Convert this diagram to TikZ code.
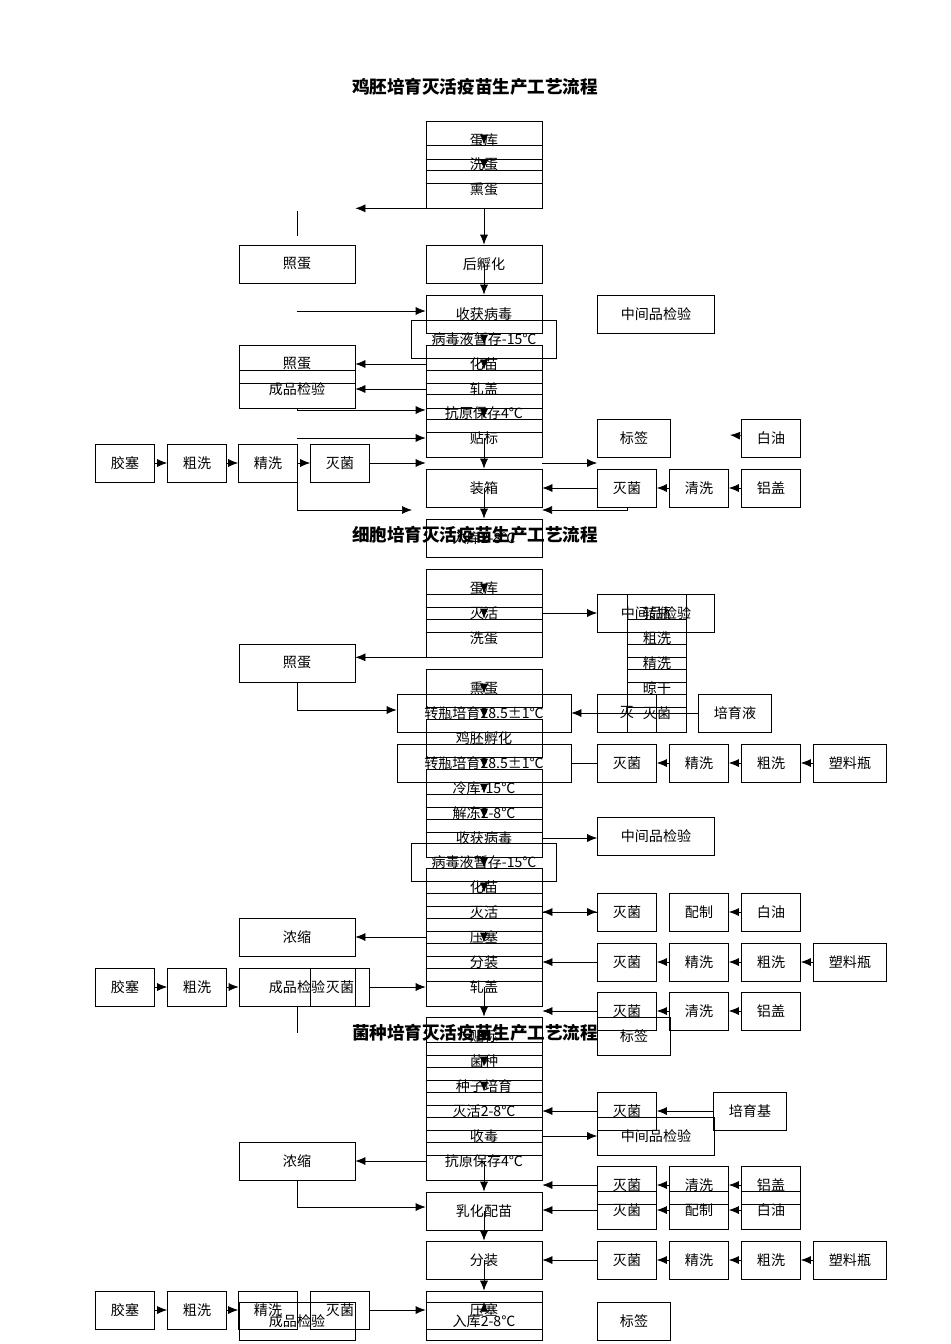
\documentclass[tikz,border=0pt]{standalone}
\usepackage{fontspec}
\setmainfont{Noto Sans CJK SC}
\usetikzlibrary{arrows.meta}
\tikzset{
  box/.style={draw,thin,minimum width=#1*0.02cm,minimum height=0.76cm,inner sep=0pt,font=\fontsize{8}{9}\selectfont},
  box/.default=116,
  arr/.style={-{Latex[length=2mm,width=1.6mm]},thin},
  ttl/.style={font=\fontsize{10}{12}\selectfont\bfseries}
}
\newcommand{\bx}[5][116]{\node[box=#1] (#2) at (#3,#4+3) {#5};}
\begin{document}
\begin{tikzpicture}[x=0.02cm,y=-0.02cm]
\useasboundingbox (0,0) rectangle (950,1344);
% section 1
\node[ttl] (t1) at (475,87) {鸡胚培育灭活疫苗生产工艺流程};
\bx{a1}{484}{137}{蛋库}
\bx{a2}{484}{161}{洗蛋}
\bx{a3}{484}{186}{熏蛋}
\bx{a4}{484}{261}{后孵化}
\bx{a5}{484}{311}{收获病毒}
\bx[145]{a6}{484}{336}{病毒液暂存-15℃}
\bx{a7}{484}{386}{轧盖}
\bx{a8}{484}{410}{抗原保存4℃}
\bx{a9}{484}{361}{化苗}
\bx{a10}{484}{435}{贴标}
\bx{a11}{484}{485}{装箱}
\bx{a12}{484}{535}{入库2-8℃}
\bx{b1}{297}{261}{照蛋}
\bx{b2}{297}{361}{照蛋}
\bx{b3}{297}{386}{成品检验}
\bx[59]{b4}{125}{460}{胶塞}
\bx[59]{b5}{197}{460}{粗洗}
\bx[59]{b6}{268}{460}{精洗}
\bx[59]{b7}{340}{460}{灭菌}
\bx[117]{c1}{656}{311}{中间品检验}
\bx[73]{c2}{634}{435}{标签}
\bx[59]{c3}{771}{435}{白油}
\bx[59]{c4}{627}{485}{灭菌}
\bx[59]{c5}{699}{485}{清洗}
\bx[59]{c6}{771}{485}{铝盖}
\coordinate (p1) at (297,211); \coordinate (p2) at (297,236);
\coordinate (p3) at (297,311); \coordinate (p4) at (297,410);
\coordinate (p5) at (297,510); \coordinate (p6) at (412,510);
\coordinate (p7) at (730,435); \coordinate (p8) at (542,510);
\draw (p1) -- (p2);
\draw[arr] (a3.south west) -- (a3.south west -| b1.east);
\draw[arr] (a3.south) -- (a4.north);
\draw[arr] (p3) -- (p3 -| a5.west);
\draw[arr] (a9.west) -- (b2.east);
\draw[arr] (a7.west) -- (b3.east);
\draw (b3.south) -- (p4);
\draw[arr] (p4) -- (p4 -| a8.west);
\draw[arr] (p4 |- a10) -- (a10.west);
\draw[arr] (b7.east) -- (a10.west |- b7);
\draw[arr] (b4) -- (b5); \draw[arr] (b5) -- (b6); \draw[arr] (b6) -- (b7);
\draw[arr] (a10.east |- b7) -- (c2.west |- b7);
\draw[arr] (c4) -- (a11.east |- c4);
\draw[arr] (c5) -- (c4); \draw[arr] (c6) -- (c5);
\draw[arr] (c3) -- (p7);
\draw[arr] (c4.south) |- (p8);
\draw (p5 |- b6.south) -- (p5); \draw[arr] (p5) -- (p6);
\foreach \u/\v in {a1/a2,a2/a3,a4/a5,a6/a9,a9/a7,a8/a10,a10/a11,a11/a12}
  \draw[arr] (\u.center) -- (\v.north);
% section 2
\node[ttl] (t2) at (475,535) {细胞培育灭活疫苗生产工艺流程};
\bx{d1}{484}{585}{蛋库}
\bx{d2}{484}{610}{灭活}
\bx{d3}{484}{635}{洗蛋}
\bx{d4}{484}{685}{熏蛋}
\bx{d5}{484}{735}{鸡胚孵化}
\bx[174]{d6}{484}{710}{转瓶培育28.5±1℃}
\bx[174]{d7}{484}{760}{转瓶培育28.5±1℃}
\bx{d8}{484}{785}{冷库-15℃}
\bx{d9}{484}{835}{收获病毒}
\bx{d10}{484}{810}{解冻2-8℃}
\bx[145]{d11}{484}{859}{病毒液暂存-15℃}
\bx{d12}{484}{909}{灭活}
\bx{d13}{484}{884}{化苗}
\bx{d14}{484}{959}{分装}
\bx{d15}{484}{934}{压塞}
\bx{d16}{484}{984}{轧盖}
\bx{e1}{297}{660}{照蛋}
\bx{e2}{297}{934}{浓缩}
\bx[59]{e3}{125}{984}{胶塞}
\bx[59]{e4}{197}{984}{粗洗}
\bx[59]{e5}{340}{984}{灭菌}
\bx{e6}{297}{984}{成品检验}
\bx[117]{f1}{656}{610}{中间品检验}
\bx[59]{f3}{657}{635}{粗洗}
\bx[59]{f4}{657}{660}{精洗}
\bx[59]{f5}{657}{685}{晾干}
\bx[59]{f6}{627}{710}{灭}
\bx[59]{f2}{657}{610}{转瓶}
\bx[59]{f7}{657}{710}{灭菌}
\bx[73]{f8}{735}{710}{培育液}
\bx[59]{f9}{627}{760}{灭菌}
\bx[59]{f10}{699}{760}{精洗}
\bx[59]{f11}{771}{760}{粗洗}
\bx[73]{f12}{850}{760}{塑料瓶}
\bx[117]{f13}{656}{833}{中间品检验}
\bx[59]{f14}{627}{909}{灭菌}
\bx[59]{f15}{699}{909}{配制}
\bx[59]{f16}{771}{909}{白油}
\bx[59]{f17}{627}{959}{灭菌}
\bx[59]{f18}{699}{959}{精洗}
\bx[59]{f19}{771}{959}{粗洗}
\bx[73]{f20}{850}{959}{塑料瓶}
\bx[73]{f24}{634}{1033}{标签}
\bx[59]{f21}{627}{1008}{灭菌}
\bx[59]{f22}{699}{1008}{清洗}
\bx[59]{f23}{771}{1008}{铝盖}
\coordinate (q1) at (297,710); \coordinate (q2) at (297,1033);
\draw[arr] (d3.south west) -- (d3.south west -| e1.east);
\draw (e1.south) -- (q1); \draw[arr] (q1) -- (d6.west |- q1);
\draw[arr] (d2.east) -- (f1.west |- d2);
\draw[arr] (f8) -- (d6.east);
\draw[arr] (f10) -- (f9); \draw[arr] (f11) -- (f10); \draw[arr] (f12) -- (f11);
\draw (f9.west) -- (d7.east);
\draw[arr] (d9.east) -- (f13.west |- d9);
\draw[arr] (d12.east) -- (f14.west);
\draw[arr] (f14.west) -- (d12.east);
\draw[arr] (f16) -- (f15);
\draw[arr] (d15.west) -- (e2.east);
\draw[arr] (f17) -- (d14.east |- f17);
\draw[arr] (f18) -- (f17); \draw[arr] (f19) -- (f18); \draw[arr] (f20) -- (f19);
\draw[arr] (f21) -- (d16.east |- f21);
\draw[arr] (f22) -- (f21); \draw[arr] (f23) -- (f22);
\draw[arr] (e3) -- (e4); \draw[arr] (e4) -- (e6);
\draw[arr] (e5.east) -- (d16.west);
\draw (e6.south) -- (q2);
\foreach \u/\v in {d1/d2,d2/d3,d4/d6,d6/d5,d7/d8,d8/d10,d10/d9,d11/d13,d13/d12,d15/d14}
  \draw[arr] (\u.center) -- (\v.north);
% section 3
\node[ttl] (t3) at (475,1033) {菌种培育灭活疫苗生产工艺流程};
\bx{g1}{484}{1033}{贴标}
\bx{g2}{484}{1058}{菌种}
\bx{g3}{484}{1108}{灭活2-8℃}
\bx{g4}{484}{1133}{收毒}
\bx{g5}{484}{1083}{种子培育}
\bx{g6}{484}{1158}{抗原保存4℃}
\bx{g7}{484}{1208}{乳化配苗}
\bx{g8}{484}{1257}{分装}
\bx{g9}{484}{1307}{压塞}
\bx{g10}{484}{1318}{入库2-8℃}
\bx{h1}{297}{1158}{浓缩}
\bx[59]{h2}{125}{1307}{胶塞}
\bx[59]{h3}{197}{1307}{粗洗}
\bx[59]{h4}{268}{1307}{精洗}
\bx[59]{h5}{340}{1307}{灭菌}
\bx{h6}{297}{1318}{成品检验}
\bx[59]{k1}{627}{1108}{灭菌}
\bx[73]{k2}{750}{1108}{培育基}
\bx[117]{k3}{656}{1133}{中间品检验}
\bx[59]{k7}{627}{1207}{灭菌}
\bx[59]{k8}{699}{1207}{配制}
\bx[59]{k9}{771}{1207}{白油}
\bx[59]{k4}{627}{1182}{灭菌}
\bx[59]{k5}{699}{1182}{清洗}
\bx[59]{k6}{771}{1182}{铝盖}
\bx[59]{k10}{627}{1257}{灭菌}
\bx[59]{k11}{699}{1257}{精洗}
\bx[59]{k12}{771}{1257}{粗洗}
\bx[73]{k13}{850}{1257}{塑料瓶}
\bx[73]{k14}{634}{1318}{标签}
\coordinate (r1) at (297,1207);
\draw[arr] (k1) -- (g3.east |- k1);
\draw[arr] (k2) -- (k1);
\draw[arr] (g4.east) -- (k3.west |- g4);
\draw[arr] (g6.west) -- (h1.east);
\draw (h1.south) -- (r1); \draw[arr] (r1) -- (g7.west |- r1);
\draw[arr] (k4) -- (g6.east |- k4);
\draw[arr] (k7) -- (g7.east |- k7);
\draw[arr] (k5) -- (k4); \draw[arr] (k6) -- (k5);
\draw[arr] (k8) -- (k7); \draw[arr] (k9) -- (k8);
\draw[arr] (k10) -- (g8.east |- k10);
\draw[arr] (k11) -- (k10); \draw[arr] (k12) -- (k11); \draw[arr] (k13) -- (k12);
\draw[arr] (h2) -- (h3); \draw[arr] (h3) -- (h4);
\draw[arr] (h5.east) -- (g9.west |- h5);
\foreach \u/\v in {d16/g1,g1/g2,g2/g5,g5/g3,g6/g7,g7/g8,g8/g9,g9/g10}
  \draw[arr] (\u.center) -- (\v.north);
\end{tikzpicture}
\end{document}
